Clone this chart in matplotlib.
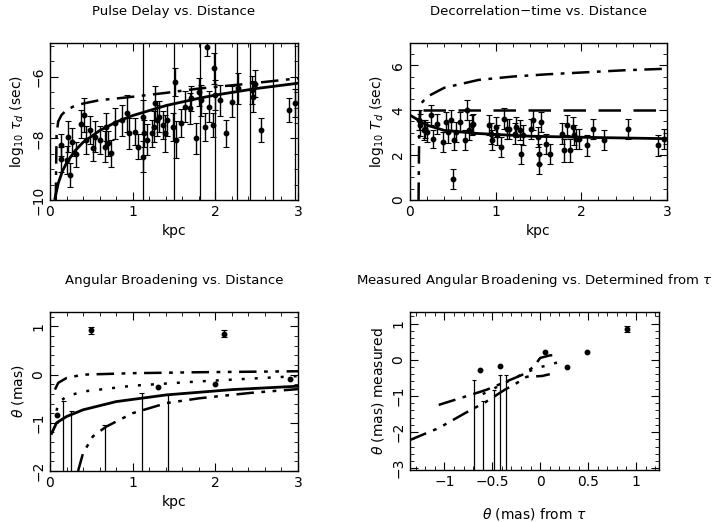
import matplotlib
matplotlib.use('Agg')
import matplotlib.pyplot as plt
from matplotlib.ticker import MultipleLocator

plt.rcParams['font.family'] = ['DejaVu Sans']
plt.rcParams['mathtext.fontset'] = 'dejavusans'

# ---- Pulse delay vs distance ----
p1_x = [0.13, 0.13, 0.20, 0.24, 0.22, 0.27, 0.31, 0.38, 0.41, 0.43, 0.48, 0.52, 0.54,
        0.60, 0.66, 0.68, 0.70, 0.74, 0.79, 0.87, 0.93, 0.95, 1.03, 1.07, 1.12, 1.12,
        1.14, 1.17, 1.23, 1.26, 1.27, 1.29, 1.32, 1.37, 1.39, 1.41, 1.49, 1.51, 1.52,
        1.59, 1.63, 1.69, 1.71, 1.77, 1.80, 1.83, 1.87, 1.90, 1.92, 1.97, 1.99, 2.00,
        2.06, 2.13, 2.20, 2.28, 2.44, 2.46, 2.48, 2.55, 2.89, 2.97]
p1_y = [-8.22, -8.68, -8.70, -9.19, -7.95, -8.11, -8.52, -7.54, -7.24, -8.05, -7.73,
        -8.32, -7.95, -8.05, -8.27, -7.62, -8.16, -8.49, -7.51, -7.41, -7.19, -7.84,
        -7.78, -8.27, -7.30, -8.59, -7.84, -8.05, -7.84, -7.62, -6.86, -7.41, -7.30,
        -7.57, -7.84, -7.41, -7.62, -6.16, -8.05, -7.51, -6.97, -7.03, -6.70, -8.00,
        -6.49, -6.76, -7.62, -5.03, -6.97, -7.57, -5.73, -6.59, -6.76, -7.84, -6.81,
        -6.38, -6.43, -6.65, -6.22, -7.73, -7.08, -6.86]
p1_err = [0.35, 0.4, 0.45, 0.4, 0.5, 0.45, 0.4, 0.45, 0.55, 0.45, 0.45, 0.4, 0.5,
          0.45, 0.5, 0.45, 0.4, 0.45, 0.5, 0.5, 0.6, 0.5, 0.45, 0.4, 0.55, 0.5,
          0.45, 0.5, 0.45, 0.5, 0.55, 0.5, 0.5, 0.45, 0.6, 0.5, 0.45, 0.45, 0.6,
          0.45, 0.5, 0.5, 0.4, 0.5, 0.45, 0.5, 0.45, 0.3, 0.5, 0.4, 0.5, 0.5,
          0.5, 0.45, 0.5, 0.5, 0.45, 0.5, 0.45, 0.4, 0.4, 0.45]
p1_lim_x = [1.13, 1.50, 1.82, 2.00, 2.26, 2.42, 2.70, 2.96]
p1_fit_x = [0.06, 0.1, 0.15, 0.2, 0.3, 0.4, 0.6, 0.8, 1.0, 1.41, 1.8, 2.01, 2.5, 3.0]
p1_fit_y = [-9.95, -9.46, -9.07, -8.80, -8.41, -8.13, -7.75, -7.47, -7.26, -6.93,
            -6.70, -6.59, -6.38, -6.21]
p1_dd_x = [0.07, 0.075, 0.08, 0.1, 0.14, 0.2, 0.28, 0.4, 0.6, 1.0, 1.41, 1.81, 2.42, 3.0]
p1_dd_y = [-10.0, -8.8, -7.84, -7.45, -7.24, -7.08, -6.97, -6.87, -6.76, -6.65,
           -6.52, -6.38, -6.22, -6.05]

# ---- Decorrelation time vs distance ----
p2_x = [0.10, 0.12, 0.16, 0.18, 0.20, 0.24, 0.27, 0.31, 0.38, 0.42, 0.44, 0.48, 0.50,
        0.51, 0.54, 0.58, 0.64, 0.67, 0.69, 0.72, 0.74, 0.92, 0.94, 0.96, 1.00, 1.02,
        1.06, 1.10, 1.13, 1.15, 1.22, 1.24, 1.28, 1.29, 1.32, 1.41, 1.43, 1.49, 1.50,
        1.51, 1.53, 1.59, 1.63, 1.77, 1.80, 1.83, 1.87, 1.90, 1.91, 1.94, 1.97, 2.07,
        2.14, 2.27, 2.55, 2.89, 2.97]
p2_y = [3.55, 3.33, 3.10, 3.18, 3.03, 3.78, 2.73, 3.40, 2.58, 3.48, 3.03, 3.55, 0.94,
        2.66, 3.03, 3.48, 2.66, 4.00, 3.10, 3.33, 3.40, 3.33, 2.96, 2.66, 3.25, 2.88,
        2.36, 3.63, 3.18, 3.18, 2.96, 3.25, 3.10, 2.06, 2.88, 3.18, 3.55, 2.81, 2.06,
        1.61, 3.48, 2.51, 2.06, 2.96, 2.21, 3.33, 2.21, 3.25, 2.88, 2.73, 2.73, 2.43,
        3.18, 2.66, 3.18, 2.43, 2.73]
p2_err = [0.45, 0.5, 0.45, 0.4, 0.45, 0.45, 0.4, 0.45, 0.45, 0.45, 0.5, 0.45, 0.45,
          0.45, 0.45, 0.45, 0.45, 0.45, 0.45, 0.45, 0.45, 0.45, 0.45, 0.45, 0.45, 0.45,
          0.45, 0.45, 0.45, 0.45, 0.45, 0.45, 0.45, 0.45, 0.45, 0.45, 0.45, 0.45, 0.45,
          0.45, 0.45, 0.45, 0.45, 0.45, 0.5, 0.45, 0.5, 0.45, 0.45, 0.45, 0.45, 0.45,
          0.45, 0.45, 0.45, 0.45, 0.45]
p2_fit_x = [0.0, 0.2, 0.4, 0.8, 1.4, 2.2, 3.0]
p2_fit_y = [3.78, 3.33, 3.10, 2.96, 2.84, 2.78, 2.73]
p2_dash_x = [0.15, 3.0]
p2_dash_y = [4.03, 4.03]
p2_dd_x = [0.10, 0.105, 0.11, 0.13, 0.2, 0.4, 0.8, 1.2, 1.6, 2.0, 2.5, 3.0]
p2_dd_y = [0.0, 2.0, 3.5, 4.3, 4.6, 5.0, 5.35, 5.5, 5.6, 5.68, 5.78, 5.85]

# ---- Angular broadening vs distance ----
p3_x = [0.50, 2.10]
p3_y = [0.92, 0.85]
p3_err = [0.07, 0.07]
p3_dot_x = [0.08, 1.31, 2.00, 2.90]
p3_dot_y = [-0.83, -0.26, -0.19, -0.10]
p3_lim_x = [0.16, 0.26, 0.66, 1.11, 1.43]
p3_lim_top = [-0.54, -0.76, -1.05, -0.38, -0.42]
p3_fit_x = [0.02, 0.08, 0.2, 0.4, 0.8, 1.41, 2.21, 3.0]
p3_fit_y = [-1.22, -1.0, -0.87, -0.73, -0.56, -0.42, -0.31, -0.24]
p3_top_x = [0.06, 0.1, 0.2, 0.4, 1.0, 1.81, 3.0]
p3_top_y = [-0.31, -0.17, -0.07, 0.0, 0.03, 0.05, 0.07]
p3_mid_x = [0.08, 0.1, 0.2, 0.4, 1.0, 1.81, 3.0]
p3_mid_y = [-0.75, -0.59, -0.45, -0.35, -0.23, -0.14, -0.03]
p3_low_x = [0.34, 0.4, 0.52, 0.68, 1.0, 1.41, 1.81, 2.42, 3.0]
p3_low_y = [-2.0, -1.63, -1.28, -1.08, -0.80, -0.59, -0.49, -0.38, -0.30]

# ---- Measured vs determined from tau ----
p4_x = [0.91]
p4_y = [0.85]
p4_err = [0.08]
p4_dot_x = [0.49, 0.05, 0.28, -0.63, -0.42]
p4_dot_y = [0.20, 0.20, -0.20, -0.28, -0.17]
p4_lim_x = [-0.69, -0.60, -0.48, -0.42, -0.36]
p4_lim_top = [-0.56, -1.13, -0.83, -0.42, -0.42]
p4_a_x = [-1.06, -0.70, -0.56, -0.37, -0.19, -0.07, 0.0, 0.1, 0.2]
p4_a_y = [-1.25, -0.95, -0.83, -0.62, -0.42, -0.20, 0.05, 0.12, 0.13]
p4_b_x = [-1.36, -1.06, -0.78, -0.57, -0.37, -0.26, -0.14, 0.02, 0.1]
p4_b_y = [-2.22, -1.89, -1.47, -1.17, -0.83, -0.67, -0.47, -0.45, -0.40]
p4_c_x = [-0.60, -0.45, -0.30, -0.15, 0.0, 0.1, 0.2]
p4_c_y = [-0.95, -0.75, -0.55, -0.35, -0.20, -0.15, -0.05]

DASHDOT = (0, (7, 3, 1.5, 3))
DASHDOT2 = (0, (7, 3, 1.5, 3, 1.5, 3))
DOTTED = (0, (1.2, 4))


def style_ax(ax, xmaj, xmin, ymaj, ymin):
    ax.xaxis.set_major_locator(MultipleLocator(xmaj))
    ax.xaxis.set_minor_locator(MultipleLocator(xmin))
    ax.yaxis.set_major_locator(MultipleLocator(ymaj))
    ax.yaxis.set_minor_locator(MultipleLocator(ymin))
    ax.tick_params(which='both', direction='in', top=True, right=True, labelsize=10)
    ax.tick_params(which='major', length=6, width=0.8)
    ax.tick_params(which='minor', length=3, width=0.6)
    for lab in ax.get_yticklabels():
        lab.set_rotation(90)
        lab.set_va('center')
    for s in ax.spines.values():
        s.set_linewidth(1.0)


fig = plt.figure(figsize=(7.18, 5.22), dpi=100)
ax1 = fig.add_axes([0.0696, 0.617, 0.3454, 0.3008])
ax2 = fig.add_axes([0.571, 0.617, 0.358, 0.3008])
ax3 = fig.add_axes([0.0696, 0.0977, 0.3454, 0.3046])
ax4 = fig.add_axes([0.571, 0.0996, 0.3468, 0.3027])

ebkw = dict(fmt='o', color='black', ms=3.2, elinewidth=1.0, capsize=2, capthick=0.8)
title_kw = dict(fontsize=9.5, pad=20)

# panel 1
ax1.vlines(p1_lim_x, -10, -4.9, color='black', lw=0.9)
ax1.errorbar(p1_x, p1_y, yerr=p1_err, **ebkw)
ax1.plot(p1_fit_x, p1_fit_y, color='black', lw=2)
ax1.plot(p1_dd_x, p1_dd_y, color='black', lw=1.8, linestyle=DASHDOT)
ax1.set_xlim(0, 3)
ax1.set_ylim(-10, -4.9)
style_ax(ax1, 1, 0.2, 2, 0.5)
ax1.set_xlabel('kpc', fontsize=10)
ax1.set_ylabel(r'$\mathrm{log}_{10}\ \tau_d$ (sec)', fontsize=10)
ax1.set_title('Pulse Delay vs. Distance', **title_kw)

# panel 2
ax2.errorbar(p2_x, p2_y, yerr=p2_err, **ebkw)
ax2.plot(p2_fit_x, p2_fit_y, color='black', lw=2)
ax2.plot(p2_dash_x, p2_dash_y, color='black', lw=1.8, linestyle=(0, (9, 5)))
ax2.plot(p2_dd_x, p2_dd_y, color='black', lw=1.8, linestyle=DASHDOT)
ax2.set_xlim(0, 3)
ax2.set_ylim(0, 7.0)
style_ax(ax2, 1, 0.2, 2, 0.5)
ax2.set_xlabel('kpc', fontsize=10)
ax2.set_ylabel(r'$\mathrm{log}_{10}\ T_d$ (sec)', fontsize=10)
ax2.set_title('Decorrelation\u2212time vs. Distance', **title_kw)

# panel 3
ax3.vlines(p3_lim_x, -2.1, p3_lim_top, color='black', lw=0.9)
ax3.hlines(p3_lim_top, [x - 0.03 for x in p3_lim_x], [x + 0.03 for x in p3_lim_x],
           color='black', lw=0.8)
ax3.errorbar(p3_x, p3_y, yerr=p3_err, **ebkw)
ax3.plot(p3_dot_x, p3_dot_y, 'o', color='black', ms=3.2)
ax3.plot(p3_fit_x, p3_fit_y, color='black', lw=2)
ax3.plot(p3_top_x, p3_top_y, color='black', lw=1.8, linestyle=DASHDOT2)
ax3.plot(p3_mid_x, p3_mid_y, color='black', lw=1.8, linestyle=DOTTED)
ax3.plot(p3_low_x, p3_low_y, color='black', lw=1.8, linestyle=DASHDOT2)
ax3.set_xlim(0, 3)
ax3.set_ylim(-2.0, 1.3)
style_ax(ax3, 1, 0.2, 1, 0.2)
ax3.set_xlabel('kpc', fontsize=10)
ax3.set_ylabel(r'$\theta$ (mas)', fontsize=10)
ax3.set_title('Angular Broadening vs. Distance', **title_kw)

# panel 4
ax4.vlines(p4_lim_x, -3.1, p4_lim_top, color='black', lw=0.9)
ax4.hlines(p4_lim_top, [x - 0.02 for x in p4_lim_x], [x + 0.02 for x in p4_lim_x],
           color='black', lw=0.8)
ax4.errorbar(p4_x, p4_y, yerr=p4_err, **ebkw)
ax4.plot(p4_dot_x, p4_dot_y, 'o', color='black', ms=3.2)
ax4.plot(p4_a_x, p4_a_y, color='black', lw=1.8, linestyle=DASHDOT)
ax4.plot(p4_b_x, p4_b_y, color='black', lw=1.8, linestyle=DASHDOT2)
ax4.plot(p4_c_x, p4_c_y, color='black', lw=1.8, linestyle=DOTTED)
ax4.set_xlim(-1.36, 1.24)
ax4.set_ylim(-3.05, 1.32)
style_ax(ax4, 0.5, 0.1, 1, 0.2)
ax4.set_xticks([-1, -0.5, 0, 0.5, 1])
ax4.set_xticklabels(['\u22121', '\u22120.5', '0', '0.5', '1'])
ax4.set_xlabel(r'$\theta$ (mas) from $\tau$', fontsize=10, labelpad=12)
ax4.set_ylabel(r'$\theta$ (mas) measured', fontsize=10)
ax4.set_title(r'Measured Angular Broadening vs. Determined from $\tau$', **title_kw)

fig.savefig('out.png', dpi=100)
